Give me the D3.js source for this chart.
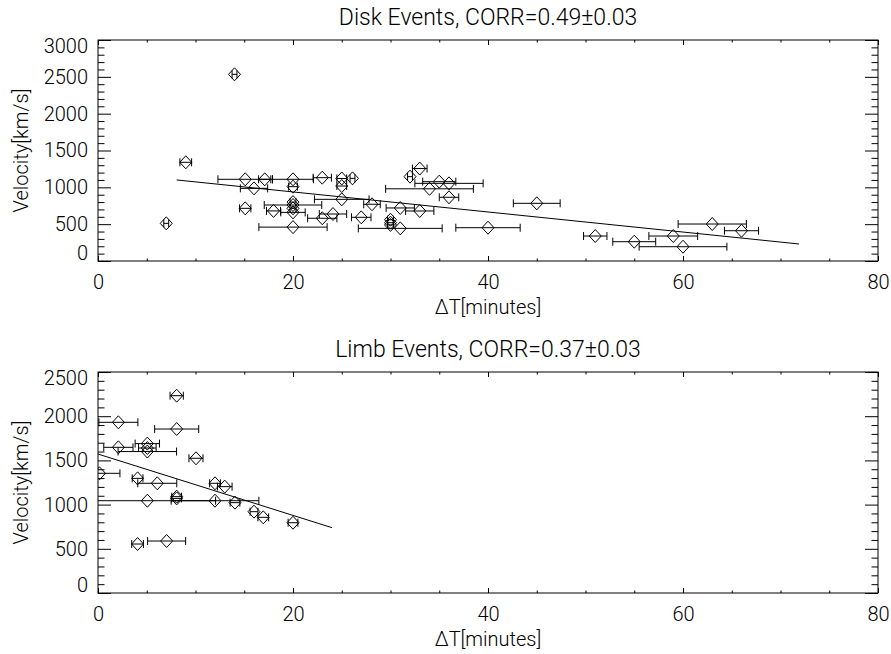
<!DOCTYPE html>
<html>
<head>
<meta charset="utf-8">
<script src="https://cdn.jsdelivr.net/npm/d3@7"></script>
<style>
  body { margin: 0; background: #fff; }
  text { font-family: Roboto, "DejaVu Sans", sans-serif; font-weight: 300; fill: #000; }
</style>
</head>
<body>
<svg id="chart" width="891" height="654"></svg>
<script>
// ---- data ----
const xTicks = [0, 20, 40, 60, 80];

const diskTitle = "Disk Events, CORR=0.49\u00b10.03";
const diskYTicks = [0, 500, 1000, 1500, 2000, 2500, 3000];
const diskDT  = [14, 7, 9, 15.1, 17.1, 16, 15.1, 18, 20, 20, 20, 20, 20, 20, 20, 23, 23, 24.1, 25, 25, 25, 26.1, 27, 28.1, 30, 30, 30, 31, 31, 32, 33, 33, 34, 35, 36, 36, 40, 45, 51, 55, 59, 60, 63, 66];
const diskV   = [2534, 511, 1340, 1109, 1109, 986, 715, 680, 1109, 1009, 800, 760, 715, 660, 460, 1131, 580, 638, 1120, 1018, 837, 1122, 593, 770, 560, 520, 490, 443, 720, 1145, 1255, 679, 980, 1077, 1054, 865, 452, 783, 339, 262, 339, 194, 502, 411];
const diskErr = [0.25, 0.25, 0.6, 2.8, 0.63, 1.4, 0.58, 0.72, 2.1, 0.45, 0.3, 2.95, 0.3, 1.25, 3.5, 0.94, 1.5, 1.4, 0.5, 0.5, 2.8, 0.25, 1.0, 0.85, 0.3, 0.3, 0.3, 4.3, 1.45, 0.25, 0.75, 1.45, 4.5, 1.7, 3.5, 1.0, 3.3, 2.4, 1.2, 2.2, 2.5, 4.5, 3.5, 1.75];
const diskFitDT = [8.07, 71.9];
const diskFitV  = [1100, 231];

const limbTitle = "Limb Events, CORR=0.37\u00b10.03";
const limbYTicks = [0, 500, 1000, 1500, 2000, 2500];
const limbDT  = [8.07, 2.09, 8.07, 2.09, 5.06, 5.06, 5.06, 10.05, 0.15, 4.06, 6.08, 12, 13, 5.06, 12, 8.07, 8.07, 14.05, 16, 16.95, 20, 7.04, 4.06];
const limbV   = [2232, 1931, 1855, 1648, 1690, 1640, 1600, 1524, 1354, 1297, 1241, 1241, 1203, 1044, 1044, 1090, 1070, 1022, 920, 856, 795, 588, 554];
const limbErr = [0.68, 2.0, 2.26, 1.5, 1.25, 0.9, 3.0, 0.72, 2.1, 0.55, 2.0, 0.55, 0.75, 7, 4.5, 0.5, 0.5, 0.5, 0.4, 0.55, 0.5, 1.95, 0.6];
const limbFitDT = [0, 24];
const limbFitV  = [1572, 739];

const xTitle = "\u0394T[minutes]";
const yTitle = "Velocity[km/s]";

let svg = d3.select("#chart");

function drawPanel(id, top, title, yTicks, dt, v, err, fitDT, fitV){
    let left = 98, right = 878, bottom = top + 221;
    let x = d3.scaleLinear().domain([0, 80]).range([left, right]);
    let y = d3.scaleLinear().domain([0, d3.max(yTicks)]).range([bottom, top]);
    let step = yTicks[1] - yTicks[0];
    let yMinor = d3.range(0, d3.max(yTicks) + 1, step / 5).filter(d => d % step !== 0);
    let xMinor = d3.range(0, 81, 5).filter(d => d % 20 !== 0);

    let g = svg.append("g");

    g.append("clipPath").attr("id", "clip" + id)
        .append("rect").attr("x", left).attr("y", top)
        .attr("width", right - left).attr("height", bottom - top);

    // box
    g.append("rect").attr("x", left).attr("y", top)
        .attr("width", right - left).attr("height", bottom - top)
        .attr("fill", "none").attr("stroke", "#000").attr("stroke-width", 1);

    // ticks on all four sides, pointing inward
    let yMaj = d3.axisLeft(y).tickValues(yTicks).tickFormat(d3.format("d"))
        .tickSizeInner(-13).tickSizeOuter(0).tickPadding(10);
    let ga = g.append("g").attr("transform", `translate(${left},0)`).call(yMaj);
    ga.selectAll("text").style("font-size", "20px")
        .attr("dy", d => d === d3.max(yTicks) ? "0.62em" : d === 0 ? "-0.08em" : "0.32em");
    g.append("g").attr("transform", `translate(${left},0)`)
        .call(d3.axisLeft(y).tickValues(yMinor).tickSizeInner(-6.5).tickSizeOuter(0).tickFormat(""));
    g.append("g").attr("transform", `translate(${right},0)`)
        .call(d3.axisRight(y).tickValues(yTicks).tickSizeInner(-13).tickSizeOuter(0).tickFormat(""));
    g.append("g").attr("transform", `translate(${right},0)`)
        .call(d3.axisRight(y).tickValues(yMinor).tickSizeInner(-6.5).tickSizeOuter(0).tickFormat(""));

    let xa = g.append("g").attr("transform", `translate(0,${bottom})`)
        .call(d3.axisBottom(x).tickValues(xTicks).tickFormat(d3.format("d"))
            .tickSizeInner(-5).tickSizeOuter(0).tickPadding(14));
    xa.selectAll("text").style("font-size", "20px");
    g.append("g").attr("transform", `translate(0,${bottom})`)
        .call(d3.axisBottom(x).tickValues(xMinor).tickSizeInner(-2.5).tickSizeOuter(0).tickFormat(""));
    g.append("g").attr("transform", `translate(0,${top})`)
        .call(d3.axisTop(x).tickValues(xTicks).tickSizeInner(-5).tickSizeOuter(0).tickFormat(""));
    g.append("g").attr("transform", `translate(0,${top})`)
        .call(d3.axisTop(x).tickValues(xMinor).tickSizeInner(-2.5).tickSizeOuter(0).tickFormat(""));
    g.selectAll(".domain").remove();
    g.selectAll(".tick line").attr("stroke", "#000");

    // titles
    g.append("text").attr("x", (left + right) / 2).attr("y", top - 15)
        .attr("text-anchor", "middle").style("font-size", "23px").text(title);
    g.append("text").attr("x", (left + right) / 2).attr("y", bottom + 53)
        .attr("text-anchor", "middle").style("font-size", "20px").text(xTitle);
    g.append("text").attr("transform", `translate(28,${(top + bottom) / 2}) rotate(-90)`)
        .attr("text-anchor", "middle").style("font-size", "20px").text(yTitle);

    // marks
    let pts = dt.map((d, i) => ({dt: d, v: v[i], e: err[i]}));
    let m = g.append("g").attr("clip-path", `url(#clip${id})`)
        .attr("stroke", "#000").attr("fill", "none").attr("stroke-width", 1);

    m.selectAll(".bar").data(pts).enter().append("line")
        .attr("x1", d => x(d.dt - d.e)).attr("x2", d => x(d.dt + d.e))
        .attr("y1", d => y(d.v)).attr("y2", d => y(d.v));
    m.selectAll(".capl").data(pts).enter().append("line")
        .attr("x1", d => x(d.dt - d.e)).attr("x2", d => x(d.dt - d.e))
        .attr("y1", d => y(d.v) - 4).attr("y2", d => y(d.v) + 4);
    m.selectAll(".capr").data(pts).enter().append("line")
        .attr("x1", d => x(d.dt + d.e)).attr("x2", d => x(d.dt + d.e))
        .attr("y1", d => y(d.v) - 4).attr("y2", d => y(d.v) + 4);
    m.selectAll(".dia").data(pts).enter().append("path")
        .attr("d", d => {
            let cx = x(d.dt), cy = y(d.v);
            return `M${cx - 6},${cy}L${cx},${cy - 6.5}L${cx + 6},${cy}L${cx},${cy + 6.5}Z`;
        });

    m.append("line")
        .attr("x1", x(fitDT[0])).attr("y1", y(fitV[0]))
        .attr("x2", x(fitDT[1])).attr("y2", y(fitV[1]));
}

drawPanel("disk", 40, diskTitle, diskYTicks, diskDT, diskV, diskErr, diskFitDT, diskFitV);
drawPanel("limb", 372, limbTitle, limbYTicks, limbDT, limbV, limbErr, limbFitDT, limbFitV);
</script>
</body>
</html>
